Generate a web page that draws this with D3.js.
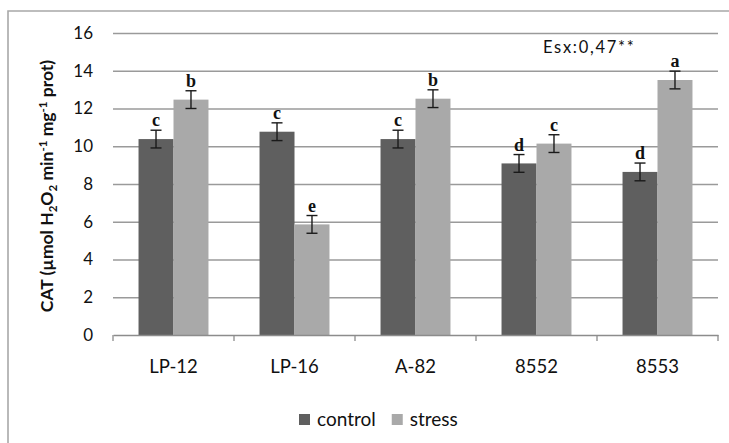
<!DOCTYPE html>
<html>
<head>
<meta charset="utf-8">
<script src="https://cdn.jsdelivr.net/npm/d3@7"></script>
<style>
  body { margin: 0; background: #fff; }
  text { font-family: Lato, "Open Sans", sans-serif; fill: #111; }
</style>
</head>
<body>
<div id="container"></div>
<script>
/* CONSTANTS AND GLOBALS */
const width = 729,
      height = 443,
      margin = {top : 33, bottom : 108, left : 113, right : 11};

/* DATA */
const categories = ["LP-12", "LP-16", "A-82", "8552", "8553"];
const series = ["control", "stress"];
const controlValues = [10.38, 10.77, 10.38, 9.09, 8.64];
const stressValues = [12.47, 5.86, 12.52, 10.14, 13.51];
const controlLetters = ["c", "c", "c", "d", "d"];
const stressLetters = ["b", "e", "b", "c", "a"];
const errorValue = 0.47;
const yTicks = [0, 2, 4, 6, 8, 10, 12, 14, 16];
const noteText = "Esx:0,47**";

const colors = {control : "#5f5f5f", stress : "#a9a9a9"};

// flat table for the bars
const bars = [];
categories.forEach((c, i) => {
  bars.push({cat : c, s : "control", v : controlValues[i], lab : controlLetters[i]});
  bars.push({cat : c, s : "stress", v : stressValues[i], lab : stressLetters[i]});
});

/* SCALES */
const xScale = d3.scaleBand()
                 .domain(categories)
                 .range([margin.left, width - margin.right])
                 .padding(0)

const xSub = d3.scaleBand()
               .domain(series)
               .range([0, xScale.bandwidth()])
               .paddingInner(0)
               .paddingOuter(0.73)

const yScale = d3.scaleLinear()
                 .domain([0, 16])
                 .range([height - margin.bottom, margin.top])

/* HTML ELEMENTS */
const svg = d3.select("#container")
              .append("svg")
              .attr("width", width)
              .attr("height", height)

// outer frame (right and bottom edges are cut off in the picture)
svg.append("path")
   .attr("d", `M8,${height + 2} V11 H${width + 2}`)
   .attr("fill", "none")
   .attr("stroke", "#a8a8a8")
   .attr("stroke-width", 1.6)

// gridlines
svg.append("g")
   .attr("transform", `translate(${margin.left}, 0)`)
   .call(d3.axisLeft(yScale).tickValues(yTicks.slice(1)).tickSize(-(width - margin.right - margin.left)).tickFormat(""))
   .call(g => g.select(".domain").remove())
   .call(g => g.selectAll("line").attr("stroke", "#9a9a9a").attr("stroke-width", 1.3))

// y tick labels
svg.append("g")
   .attr("transform", `translate(${margin.left}, 0)`)
   .call(d3.axisLeft(yScale).tickValues(yTicks).tickSize(0).tickPadding(20))
   .call(g => g.select(".domain").remove())
   .call(g => g.selectAll("text").attr("font-size", 17).attr("fill", "#111").attr("font-family", "Lato"))

// bars
svg.append("g")
   .selectAll("rect")
   .data(bars)
   .join("rect")
   .attr("x", d => xScale(d.cat) + xSub(d.s))
   .attr("y", d => yScale(d.v))
   .attr("width", xSub.bandwidth())
   .attr("height", d => yScale(0) - yScale(d.v))
   .attr("fill", d => colors[d.s])

// error bars
const err = svg.append("g")
               .attr("stroke", "#1a1a1a")
               .attr("stroke-width", 1.4)
               .selectAll("g")
               .data(bars)
               .join("g")
               .attr("transform", d => `translate(${xScale(d.cat) + xSub(d.s) + xSub.bandwidth() / 2}, 0)`)

err.append("line")
   .attr("y1", d => yScale(d.v + errorValue))
   .attr("y2", d => yScale(d.v - errorValue))
err.append("line")
   .attr("x1", -5.5).attr("x2", 5.5)
   .attr("y1", d => yScale(d.v + errorValue))
   .attr("y2", d => yScale(d.v + errorValue))
err.append("line")
   .attr("x1", -5.5).attr("x2", 5.5)
   .attr("y1", d => yScale(d.v - errorValue))
   .attr("y2", d => yScale(d.v - errorValue))

// significance letters
svg.append("g")
   .selectAll("text")
   .data(bars)
   .join("text")
   .attr("x", d => xScale(d.cat) + xSub(d.s) + xSub.bandwidth() / 2)
   .attr("y", d => yScale(d.v + errorValue) - 4)
   .attr("text-anchor", "middle")
   .attr("font-weight", "bold")
   .attr("font-size", 18)
   .style("font-family", "'Liberation Serif', serif")
   .text(d => d.lab)

// x axis
const xAxis = svg.append("g")
   .attr("transform", `translate(0, ${yScale(0)})`)
   .call(d3.axisBottom(xScale).tickSize(0).tickPadding(25))
xAxis.select(".domain").attr("stroke", "#8c8c8c").attr("stroke-width", 1.3)
xAxis.selectAll("text").attr("font-size", 18.5).attr("fill", "#111").attr("font-family", "Lato")

// tick marks between categories
svg.append("g")
   .selectAll("line")
   .data(categories.concat(["end"]))
   .join("line")
   .attr("x1", (d, i) => i < categories.length ? xScale(d) : xScale(categories[i - 1]) + xScale.bandwidth())
   .attr("x2", (d, i) => i < categories.length ? xScale(d) : xScale(categories[i - 1]) + xScale.bandwidth())
   .attr("y1", yScale(0))
   .attr("y2", yScale(0) + 6)
   .attr("stroke", "#8c8c8c")
   .attr("stroke-width", 1.3)

// y axis title
const title = svg.append("text")
   .attr("transform", `translate(53, 186) rotate(-90)`)
   .attr("text-anchor", "middle")
   .attr("font-weight", "bold")
   .attr("font-size", 17.5)
title.append("tspan").text("CAT (µmol H")
title.append("tspan").text("2").attr("font-size", 11.5).attr("dy", 4)
title.append("tspan").text("O").attr("dy", -4)
title.append("tspan").text("2").attr("font-size", 11.5).attr("dy", 4)
title.append("tspan").text(" min").attr("dy", -4)
title.append("tspan").text("-1").attr("font-size", 11.5).attr("dy", -6)
title.append("tspan").text(" mg").attr("dy", 6)
title.append("tspan").text("-1").attr("font-size", 11.5).attr("dy", -6)
title.append("tspan").text(" prot)").attr("dy", 6)

// note
svg.append("text")
   .attr("x", 543)
   .attr("y", 53)
   .attr("font-size", 16.5)
   .attr("letter-spacing", 1.7)
   .text(noteText)

// legend
const legend = svg.append("g").attr("transform", "translate(299, 414)")
let lx = 0
series.forEach(s => {
  legend.append("rect")
        .attr("x", lx).attr("y", 0)
        .attr("width", 11).attr("height", 11)
        .attr("fill", colors[s])
  const t = legend.append("text")
        .attr("x", lx + 18).attr("y", 11.5)
        .attr("font-size", 19)
        .text(s)
  lx += 18 + t.node().getComputedTextLength() + 16
})
</script>
</body>
</html>
